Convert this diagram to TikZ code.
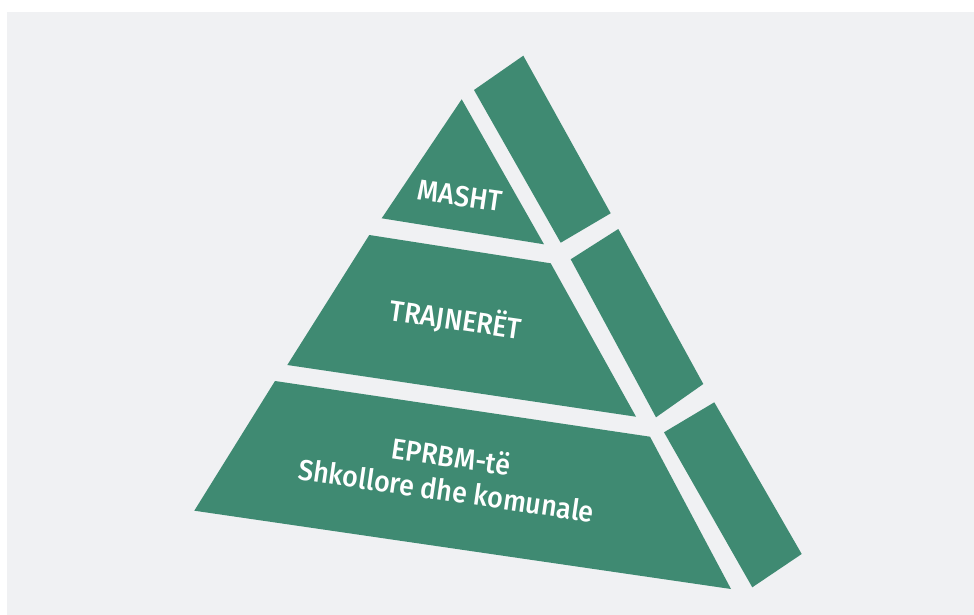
\documentclass[tikz,border=0pt]{standalone}
\usepackage{fontspec}
\setmainfont{Fira Sans}
\newfontfamily\lblfont{Fira Sans Medium}[FakeStretch=0.93]
\definecolor{bggray}{HTML}{F0F1F3}
\definecolor{pgreen}{HTML}{3F8A72}
\tikzset{
  block/.style={fill=pgreen, draw=none},
  lbl/.style={text=white, font=\lblfont\fontsize{29}{34}\selectfont, align=center, inner sep=0pt, rotate=-8.3}
}
\begin{document}
\begin{tikzpicture}[x=1pt,y=-1pt]
\useasboundingbox (0,0) rectangle (974,615);
\fill[white] (0,0) rectangle (974,615);
\fill[bggray] (7,12) rectangle (974,615);
% top level
\fill[block] (461.7,99.3) -- (381.7,218.3) -- (544,244.3) -- cycle;
\fill[block] (474,90) -- (523.3,55.7) -- (610.7,213.3) -- (560.7,242.7) -- cycle;
% middle level
\fill[block] (369.3,235) -- (550.7,263.3) -- (636,416.7) -- (287.3,365) -- cycle;
\fill[block] (570.7,259.3) -- (618.3,229) -- (703.3,384) -- (656,417.3) -- cycle;
% bottom level
\fill[block] (275,381) -- (650,436.7) -- (731,589) -- (194.3,510.7) -- cycle;
\fill[block] (664,432.3) -- (714.3,402.3) -- (801.7,554) -- (752.3,587.3) -- cycle;
% labels
\node[lbl] (masht) at (460,196) {MASHT};
\node[lbl] (trajn) at (456,319) {TRAJNERËT};
\node[lbl] (eprbm) at (449,473) {EPRBM-të\\Shkollore dhe komunale};
\end{tikzpicture}
\end{document}
